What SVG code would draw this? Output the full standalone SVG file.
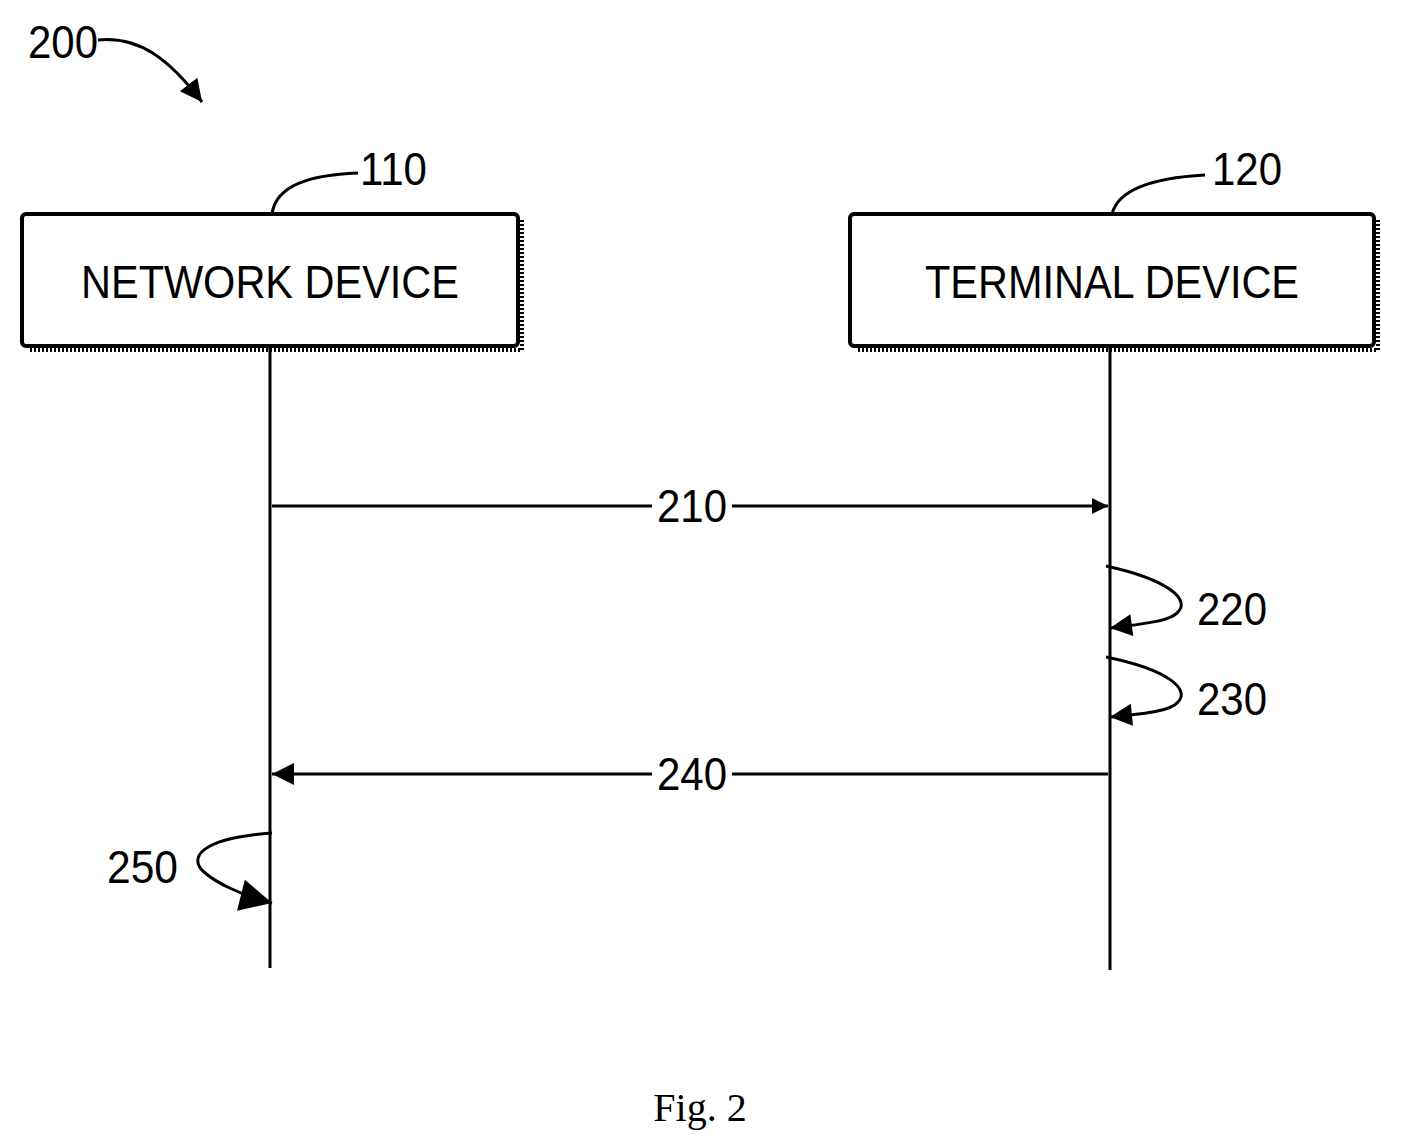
<svg xmlns="http://www.w3.org/2000/svg" width="1404" height="1142" viewBox="0 0 1404 1142">
<style>
.ln{stroke:#000;stroke-width:3;fill:none}
.lbl{font-family:"Liberation Sans",Arial,sans-serif;font-size:46px;fill:#000}
.box{fill:#fff;stroke:#000;stroke-width:4}
.sh{fill:none;stroke:#000;stroke-width:4;stroke-dasharray:2 2}
</style>
<defs>
<marker id="ah" viewBox="0 0 10 10" refX="10" refY="5" markerWidth="24" markerHeight="16" markerUnits="userSpaceOnUse" orient="auto">
<path d="M0,0 L10,5 L0,10 Z" fill="#000"/>
</marker>
<marker id="ah1" viewBox="0 0 10 10" refX="10" refY="5" markerWidth="30" markerHeight="22" markerUnits="userSpaceOnUse" orient="auto">
<path d="M0,0 L10,5 L0,10 Z" fill="#000"/>
</marker>
<marker id="ah2" viewBox="0 0 10 10" refX="10" refY="5" markerWidth="40" markerHeight="32" markerUnits="userSpaceOnUse" orient="auto">
<path d="M0,0 L10,5 L0,10 Z" fill="#000"/>
</marker>
</defs>
<rect width="1404" height="1142" fill="#fff"/>
<g id="fig-ref">
<text class="lbl" x="28" y="58" textLength="70" lengthAdjust="spacingAndGlyphs">200</text>
<path class="ln" d="M98,40 C140,36 170,60 202,102" marker-end="url(#ah1)"/>
</g>
<g id="node-110">
<path class="sh" d="M522,220 V350 H28"/>
<rect class="box" x="22" y="214" width="496" height="132" rx="4"/>
<text class="lbl" x="270" y="298" text-anchor="middle" textLength="378" lengthAdjust="spacingAndGlyphs">NETWORK DEVICE</text>
<path class="ln" d="M272,214 C276,185 310,175 358,173"/>
<text class="lbl" x="360" y="185" textLength="67" lengthAdjust="spacingAndGlyphs">110</text>
</g>
<g id="node-120">
<path class="sh" d="M1378,220 V350 H856"/>
<rect class="box" x="850" y="214" width="524" height="132" rx="4"/>
<text class="lbl" x="1112" y="298" text-anchor="middle" textLength="374" lengthAdjust="spacingAndGlyphs">TERMINAL DEVICE</text>
<path class="ln" d="M1112,214 C1118,190 1150,178 1205,175"/>
<text class="lbl" x="1212" y="185" textLength="70" lengthAdjust="spacingAndGlyphs">120</text>
</g>
<g id="connectors">
<line class="ln" x1="270" y1="346" x2="270" y2="968"/>
<line class="ln" x1="1110" y1="346" x2="1110" y2="970"/>
<line class="ln" x1="272" y1="506" x2="1108" y2="506" marker-end="url(#ah)"/>
<rect x="652" y="485" width="80" height="40" fill="#fff"/>
<text class="lbl" x="692" y="522" text-anchor="middle" textLength="70" lengthAdjust="spacingAndGlyphs">210</text>
<line class="ln" x1="1108" y1="774" x2="272" y2="774" marker-end="url(#ah1)"/>
<rect x="652" y="753" width="80" height="40" fill="#fff"/>
<text class="lbl" x="692" y="790" text-anchor="middle" textLength="70" lengthAdjust="spacingAndGlyphs">240</text>
<path class="ln" d="M1106,566 C1170,580 1190,600 1178,612 C1170,622 1140,624 1110,628" marker-end="url(#ah1)"/>
<text class="lbl" x="1197" y="625" textLength="70" lengthAdjust="spacingAndGlyphs">220</text>
<path class="ln" d="M1106,657 C1170,670 1190,690 1178,702 C1170,712 1140,714 1110,717" marker-end="url(#ah1)"/>
<text class="lbl" x="1197" y="715" textLength="70" lengthAdjust="spacingAndGlyphs">230</text>
<path class="ln" d="M272,833 C200,838 188,858 204,872 C215,882 240,895 272,903" marker-end="url(#ah2)"/>
<text class="lbl" x="107" y="883" textLength="71" lengthAdjust="spacingAndGlyphs">250</text>
</g>
<text x="700" y="1121" text-anchor="middle" font-family="'Liberation Serif','Times New Roman',serif" font-size="40">Fig. 2</text>
</svg>
